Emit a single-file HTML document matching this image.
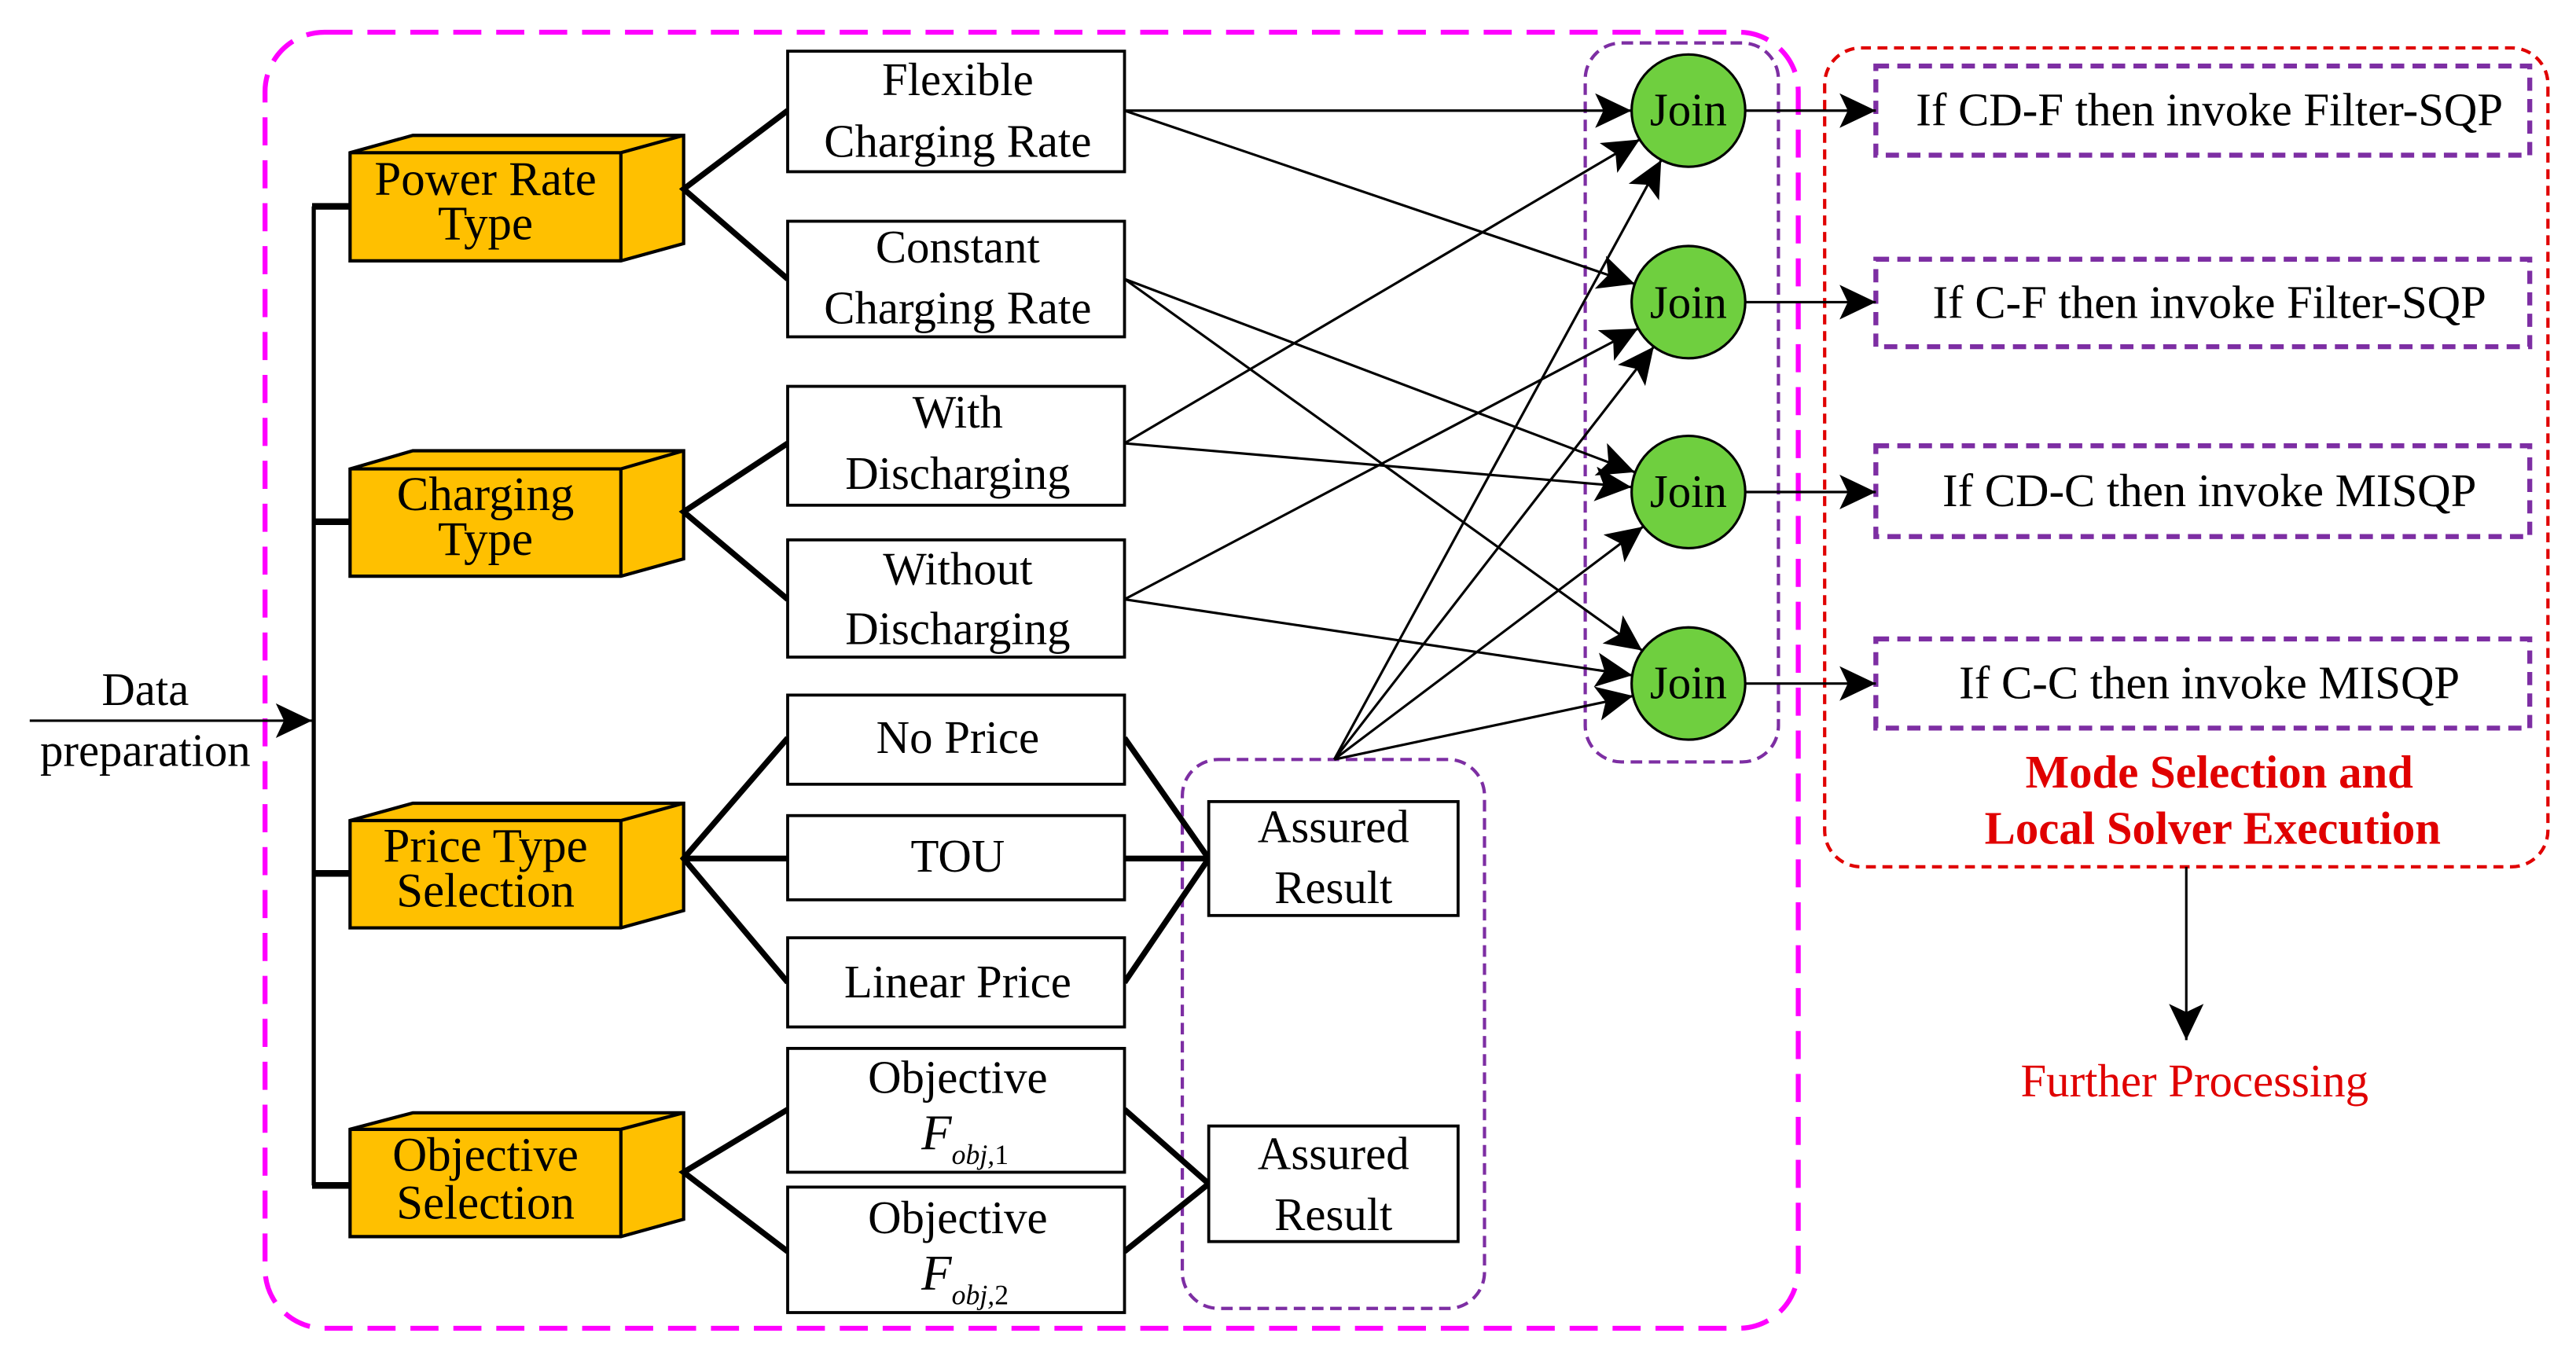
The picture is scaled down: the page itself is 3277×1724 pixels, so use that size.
<!DOCTYPE html>
<html><head><meta charset="utf-8"><style>
html,body{margin:0;padding:0;background:#fff;}
svg{display:block;}
text{font-family:"Liberation Serif",serif;fill:#000;}
</style></head><body>
<svg width="3277" height="1724" viewBox="0 0 1560 820.7" xmlns="http://www.w3.org/2000/svg">
<defs>
<marker id="ah" markerUnits="userSpaceOnUse" markerWidth="24" markerHeight="22" refX="22" refY="10.5" orient="auto">
<path d="M0,0 L22,10.5 L0,21 L5,10.5 Z" fill="#000"/>
</marker>
</defs>
<rect x="0" y="0" width="1560" height="821" fill="#fff"/>
<!-- containers -->
<rect x="160.5" y="19.5" width="928.5" height="785" rx="36" fill="none" stroke="#ff00ff" stroke-width="3" stroke-dasharray="17,9"/>
<rect x="960" y="26" width="117" height="435.5" rx="22" fill="none" stroke="#7d2ea3" stroke-width="2" stroke-dasharray="7,4"/>
<rect x="716" y="460" width="183" height="332.5" rx="22" fill="none" stroke="#7d2ea3" stroke-width="2" stroke-dasharray="7,4"/>
<rect x="1105" y="29" width="438" height="496" rx="22" fill="none" stroke="#e00000" stroke-width="2" stroke-dasharray="6,4"/>
<g fill="none" stroke="#7d2ea3" stroke-width="3" stroke-dasharray="8,5">
<rect x="1136" y="40" width="396" height="54"/>
<rect x="1136" y="157" width="396" height="53"/>
<rect x="1136" y="270" width="396" height="55"/>
<rect x="1136" y="387" width="396" height="54"/>
</g>
<!-- spine -->
<g stroke="#000" fill="none">
<line x1="190" y1="125" x2="190" y2="718" stroke-width="2.5"/>
<line x1="189" y1="125" x2="212" y2="125" stroke-width="4"/>
<line x1="189" y1="316" x2="212" y2="316" stroke-width="4"/>
<line x1="189" y1="529" x2="212" y2="529" stroke-width="4"/>
<line x1="189" y1="718" x2="212" y2="718" stroke-width="4"/>
<line x1="18" y1="436.5" x2="189" y2="436.5" stroke-width="1.5" marker-end="url(#ah)"/>
</g>
<text x="88" y="427" font-size="28" text-anchor="middle">Data</text>
<text x="88" y="464" font-size="28" text-anchor="middle">preparation</text>
<!-- cubes -->
<g stroke="#000" stroke-width="2" fill="#ffc000">
<path d="M212,92.5 L250,82 L414,82 L414,147.5 L376,158 L212,158 Z"/><path d="M212,92.5 L376,92.5 L414,82 M376,92.5 L376,158" fill="none"/>
<path d="M212,284 L250,273 L414,273 L414,338.5 L376,349 L212,349 Z"/><path d="M212,284 L376,284 L414,273 M376,284 L376,349" fill="none"/>
<path d="M212,497 L250,486.5 L414,486.5 L414,551.5 L376,562 L212,562 Z"/><path d="M212,497 L376,497 L414,486.5 M376,497 L376,562" fill="none"/>
<path d="M212,684 L250,674 L414,674 L414,738.5 L376,749 L212,749 Z"/><path d="M212,684 L376,684 L414,674 M376,684 L376,749" fill="none"/>
</g>
<g font-size="29" text-anchor="middle">
<text x="294" y="118">Power Rate</text><text x="294" y="145">Type</text>
<text x="294" y="309">Charging</text><text x="294" y="336">Type</text>
<text x="294" y="522">Price Type</text><text x="294" y="549">Selection</text>
<text x="294" y="709">Objective</text><text x="294" y="738">Selection</text>
</g>
<!-- thick connectors -->
<g stroke="#000" stroke-width="3.5" fill="none">
<polyline points="477,67 414,114.5 477,169"/>
<polyline points="477,268.5 414,310 477,363"/>
<polyline points="477,447 414,520 477,595"/>
<line x1="414" y1="520" x2="477" y2="520"/>
<polyline points="477,672 414,710 477,758"/>
<polyline points="681,447 732,520 681,595"/>
<line x1="681" y1="520" x2="732" y2="520"/>
<polyline points="681,672 732,717 681,758"/>
</g>
<!-- boxes -->
<g fill="#fff" stroke="#000" stroke-width="1.8">
<rect x="477" y="31" width="204" height="73"/>
<rect x="477" y="134" width="204" height="70"/>
<rect x="477" y="234" width="204" height="72"/>
<rect x="477" y="327" width="204" height="71"/>
<rect x="477" y="421" width="204" height="54"/>
<rect x="477" y="494" width="204" height="51"/>
<rect x="477" y="568" width="204" height="54"/>
<rect x="477" y="635" width="204" height="75"/>
<rect x="477" y="719" width="204" height="76"/>
<rect x="732" y="485.5" width="151" height="69"/>
<rect x="732" y="682" width="151" height="70"/>
</g>
<g font-size="28" text-anchor="middle">
<text x="580" y="57.5">Flexible</text><text x="580" y="95">Charging Rate</text>
<text x="580" y="159">Constant</text><text x="580" y="196">Charging Rate</text>
<text x="580" y="259">With</text><text x="580" y="296">Discharging</text>
<text x="580" y="354">Without</text><text x="580" y="390">Discharging</text>
<text x="580" y="456">No Price</text>
<text x="580" y="528">TOU</text>
<text x="580" y="604">Linear Price</text>
<text x="580" y="662">Objective</text>
<text x="580" y="747">Objective</text>
<text x="807.5" y="510">Assured</text><text x="807.5" y="547">Result</text>
<text x="807.5" y="708">Assured</text><text x="807.5" y="745">Result</text>
</g>
<text x="558" y="696" font-size="30" font-style="italic">F<tspan font-size="17" dy="9">obj,</tspan><tspan font-size="17" font-style="normal">1</tspan></text>
<text x="558" y="781" font-size="30" font-style="italic">F<tspan font-size="17" dy="9">obj,</tspan><tspan font-size="17" font-style="normal">2</tspan></text>
<!-- arrows to joins -->
<g stroke="#000" stroke-width="1.5" fill="none" marker-end="url(#ah)">
<line x1="681" y1="67" x2="988" y2="67"/>
<line x1="681" y1="67" x2="990" y2="172"/>
<line x1="681" y1="169" x2="990" y2="286"/>
<line x1="681" y1="169" x2="994.5" y2="394"/>
<line x1="681" y1="268.5" x2="993" y2="84.5"/>
<line x1="681" y1="268.5" x2="988" y2="295"/>
<line x1="681" y1="363" x2="992" y2="199"/>
<line x1="681" y1="363" x2="988.5" y2="409"/>
<line x1="808" y1="460" x2="1006" y2="97"/>
<line x1="808" y1="460" x2="1001.5" y2="210"/>
<line x1="808" y1="460" x2="995" y2="319"/>
<line x1="808" y1="460" x2="989" y2="421.5"/>
<line x1="1057" y1="67" x2="1136" y2="67"/>
<line x1="1057" y1="183" x2="1136" y2="183"/>
<line x1="1057" y1="298" x2="1136" y2="298"/>
<line x1="1057" y1="414" x2="1136" y2="414"/>
<line x1="1324" y1="525" x2="1324" y2="630"/>
</g>
<!-- joins -->
<g fill="#6fcf3f" stroke="#000" stroke-width="1.5">
<ellipse cx="1022.5" cy="67" rx="34.4" ry="34"/>
<ellipse cx="1022.5" cy="183" rx="34.4" ry="34"/>
<ellipse cx="1022.5" cy="298" rx="34.4" ry="34"/>
<ellipse cx="1022.5" cy="414" rx="34.4" ry="34"/>
</g>
<g font-size="28" text-anchor="middle">
<text x="1022.5" y="76">Join</text>
<text x="1022.5" y="192.5">Join</text>
<text x="1022.5" y="307">Join</text>
<text x="1022.5" y="423">Join</text>
<text x="1338" y="76">If CD-F then invoke Filter-SQP</text>
<text x="1338" y="192.5">If C-F then invoke Filter-SQP</text>
<text x="1338" y="306.5">If CD-C then invoke MISQP</text>
<text x="1338" y="423">If C-C then invoke MISQP</text>
</g>
<g font-size="28" text-anchor="middle" font-weight="bold">
<text x="1344" y="477" style="fill:#e00000">Mode Selection and</text>
<text x="1340" y="511" style="fill:#e00000">Local Solver Execution</text>
</g>
<text x="1329" y="664" font-size="28" text-anchor="middle" style="fill:#e00000">Further Processing</text>
</svg>
</body></html>
